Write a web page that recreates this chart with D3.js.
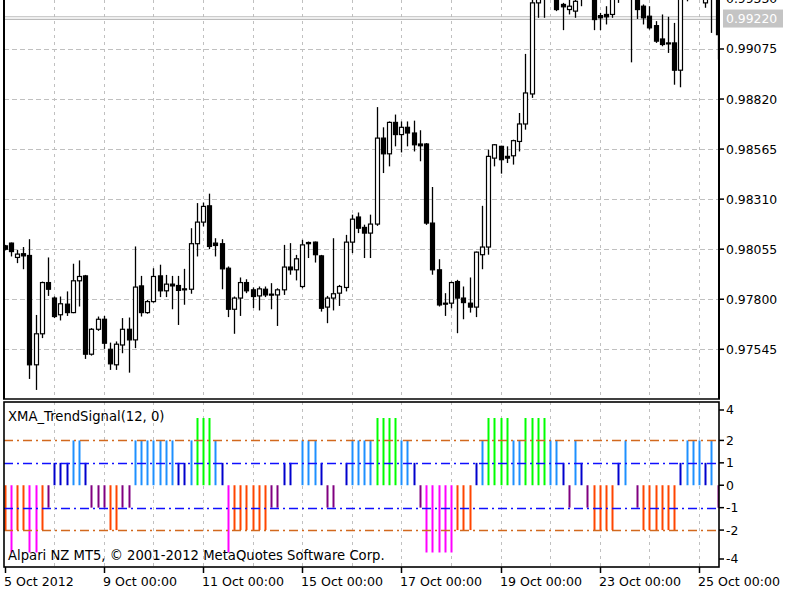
<!DOCTYPE html>
<html><head><meta charset="utf-8">
<script src="https://cdn.jsdelivr.net/npm/d3@7/dist/d3.min.js"></script>
<style>
body{margin:0;background:#fff}
svg{display:block}
text{font-family:"DejaVu Sans",sans-serif;font-size:12px;fill:#000}
</style>
</head><body>
<svg id="c" width="800" height="600"></svg>
<script>
// ---------- DATA ----------
const opens=[0.98072,0.98086,0.98013,0.98032,0.98023,0.97466,0.97624,0.97885,0.97806,0.97721,
0.97775,0.97732,0.97894,0.97919,0.97520,0.97647,0.97698,0.97545,0.97466,0.97567,
0.97647,0.97593,0.97868,0.97732,0.97788,0.97919,0.97843,0.97877,0.97870,0.97853,
0.97851,0.98083,0.98193,0.98276,0.98086,0.98083,0.97958,0.97749,0.97806,0.97885,
0.97848,0.97817,0.97851,0.97826,0.97822,0.97848,0.97964,0.97950,0.97865,0.98083,
0.98091,0.98021,0.97760,0.97806,0.97831,0.97860,0.98091,0.98219,0.98166,0.98137,
0.98183,0.98621,0.98541,0.98701,0.98639,0.98676,0.98647,0.98591,0.98591,0.98188,
0.97950,0.97780,0.97780,0.97890,0.97806,0.97780,0.97760,0.98027,0.98066,0.98519,
0.98579,0.98528,0.98531,0.98604,0.98693,0.98846,0.99310,0.99370,0.99335,0.99355,
0.99302,0.99276,0.99268,0.99330,0.99345,0.99360,0.99245,0.99251,0.99251,0.99340,
0.99350,0.99365,0.99345,0.99293,0.99242,0.99194,0.99126,0.99106,0.99106,0.98967,
0.99340,0.99360,0.99345,0.99310,0.99330,0.99340];
const highs=[0.98077,0.98089,0.98052,0.98066,0.98106,0.97720,0.97890,0.98013,0.97814,0.97814,
0.97840,0.97981,0.97998,0.97924,0.97653,0.97712,0.97715,0.97579,0.97585,0.97704,
0.97707,0.98069,0.97919,0.97797,0.97958,0.97976,0.97924,0.97919,0.97919,0.97955,
0.98162,0.98290,0.98293,0.98338,0.98111,0.98106,0.97967,0.97814,0.97911,0.97902,
0.97860,0.97865,0.97865,0.97882,0.97856,0.98077,0.98086,0.98026,0.98103,0.98094,
0.98094,0.98026,0.97817,0.98111,0.97873,0.98128,0.98231,0.98242,0.98180,0.98231,
0.98779,0.98676,0.98706,0.98741,0.98706,0.98706,0.98710,0.98661,0.98596,0.98372,
0.98004,0.97831,0.97890,0.97899,0.97865,0.97911,0.98043,0.98276,0.98562,0.98591,
0.98582,0.98579,0.98613,0.98749,0.99050,0.99345,0.99360,0.99385,0.99380,0.99370,
0.99310,0.99335,0.99330,0.99360,0.99380,0.99375,0.99259,0.99293,0.99360,0.99370,
0.99380,0.99380,0.99360,0.99302,0.99293,0.99217,0.99251,0.99239,0.99208,0.99355,
0.99380,0.99375,0.99360,0.99345,0.99355,0.99350];
const lows=[0.98049,0.98018,0.97984,0.97953,0.97394,0.97338,0.97602,0.97817,0.97704,0.97692,
0.97715,0.97729,0.97763,0.97496,0.97513,0.97639,0.97547,0.97440,0.97440,0.97525,
0.97426,0.97551,0.97712,0.97726,0.97783,0.97811,0.97811,0.97749,0.97669,0.97772,
0.97828,0.98018,0.98171,0.98055,0.98018,0.97851,0.97709,0.97624,0.97715,0.97831,
0.97755,0.97743,0.97811,0.97749,0.97664,0.97822,0.97925,0.97896,0.97856,0.98010,
0.97987,0.97737,0.97678,0.97743,0.97766,0.97840,0.98035,0.98137,0.98010,0.98010,
0.98174,0.98443,0.98477,0.98579,0.98548,0.98579,0.98553,0.98503,0.98179,0.97925,
0.97763,0.97715,0.97754,0.97627,0.97698,0.97732,0.97709,0.97953,0.98027,0.98477,
0.98440,0.98494,0.98486,0.98553,0.98664,0.98826,0.99234,0.99234,0.99330,0.99268,
0.99171,0.99251,0.99234,0.99293,0.99330,0.99171,0.99171,0.99200,0.99234,0.99310,
0.99335,0.99007,0.99228,0.99200,0.99174,0.99106,0.99089,0.99055,0.98893,0.98880,
0.99318,0.99330,0.99325,0.99285,0.99157,0.99021];
const closes=[0.98055,0.98043,0.98030,0.98021,0.97466,0.97624,0.97885,0.97851,0.97712,0.97777,
0.97732,0.97894,0.97916,0.97520,0.97647,0.97698,0.97576,0.97471,0.97571,0.97647,
0.97593,0.97862,0.97732,0.97788,0.97916,0.97843,0.97877,0.97868,0.97845,0.97848,
0.98083,0.98193,0.98273,0.98069,0.98074,0.97955,0.97749,0.97806,0.97885,0.97843,
0.97814,0.97853,0.97822,0.97821,0.97848,0.97964,0.97950,0.98006,0.98077,0.98089,
0.98027,0.97754,0.97806,0.97828,0.97865,0.98091,0.98208,0.98162,0.98137,0.98183,
0.98621,0.98541,0.98701,0.98639,0.98676,0.98647,0.98587,0.98582,0.98188,0.97950,
0.97771,0.97775,0.97885,0.97806,0.97783,0.97760,0.98040,0.98066,0.98528,0.98587,
0.98511,0.98519,0.98608,0.98693,0.98851,0.99310,0.99340,0.99335,0.99360,0.99276,
0.99290,0.99293,0.99318,0.99345,0.99360,0.99225,0.99234,0.99239,0.99340,0.99350,
0.99365,0.99345,0.99276,0.99234,0.99183,0.99115,0.99098,0.99101,0.98967,0.99340,
0.99360,0.99345,0.99340,0.99330,0.99340,0.99148];
// XMA_TrendSignal value per bar
const signal=[-2,-3,-2,-2,-3,-3,-2,-1,1,1,
1,2,2,1,-1,-1,-1,-2,-2,-1,
-1,2,2,2,2,2,2,2,1,1,
2,3,3,3,2,1,-3,-2,-2,-2,
-2,-2,-2,-1,-1,1,1,0,2,2,
2,1,-1,-1,0,1,2,2,2,2,
3,3,3,3,2,2,1,-1,-3,-3,
-3,-3,-3,-2,-2,-2,1,2,3,3,
3,3,2,2,3,3,3,3,2,2,
1,-1,2,1,-1,-2,-2,-2,-2,1,
2,0,-1,-2,-2,-2,-2,-2,-2,1,
2,2,2,1,2,-1];
const priceTicks=[0.99330,0.99075,0.98820,0.98565,0.98310,0.98055,0.97800,0.97545];
const bidPrice=0.99220;
const signalTicks=[4,2,1,0,-1,-2,-4];
const signalLevels=[2,1,-1,-2];
const timeLabels=["5 Oct 2012","9 Oct 00:00","11 Oct 00:00","15 Oct 00:00","17 Oct 00:00","19 Oct 00:00","23 Oct 00:00","25 Oct 00:00"];
const timeLabelBars=[0,16,32,48,64,80,96,112];
const barsPerDay=8;
const indicatorName="XMA_TrendSignal(12, 0)";
const copyright="Alpari NZ MT5, \u00A9 2001-2012 MetaQuotes Software Corp.";

// ---------- LAYOUT ----------
const L=4, R=719;
const main={top:0,bottom:399};
const sub={top:402,bottom:567};
const svg=d3.select("#c");
const n=closes.length;
const x=d3.scaleLinear().domain([0,n-1]).range([4.5,4.5+6.2*(n-1)]);
const y=d3.scaleLinear().domain([0.97545,0.99075]).range([349.3,49]);
const ys=d3.scaleLinear().domain([-3,3]).range([552.5,418]);
const colorOf=d3.scaleOrdinal().domain([3,2,1,-1,-2,-3])
  .range(["#00FF00","#1E90FF","#0000CD","#800080","#FF4500","#FF00FF"]);
const grid="#C0C0C0";

const defs=svg.append("defs");
defs.append("clipPath").attr("id","cm").append("rect").attr("x",L).attr("y",main.top).attr("width",R-L).attr("height",main.bottom-main.top);
defs.append("clipPath").attr("id","cs").append("rect").attr("x",L).attr("y",sub.top).attr("width",R-L).attr("height",sub.bottom-sub.top);

// ---------- MAIN WINDOW ----------
const gm=svg.append("g").attr("clip-path","url(#cm)");
const dayBars=d3.range(barsPerDay,n,barsPerDay);
gm.selectAll("line.vg").data(dayBars).join("line")
  .attr("x1",d=>Math.round(x(d))+0.5).attr("x2",d=>Math.round(x(d))+0.5)
  .attr("y1",main.top).attr("y2",main.bottom)
  .attr("stroke",grid).attr("stroke-dasharray","3,4");
gm.selectAll("line.hg").data(priceTicks).join("line")
  .attr("x1",L).attr("x2",R)
  .attr("y1",d=>Math.round(y(d))+0.5).attr("y2",d=>Math.round(y(d))+0.5)
  .attr("stroke",grid).attr("stroke-dasharray","5,3");
// bid double line
const by=y(bidPrice);
[by-3.8,by-1.2].forEach(v=>gm.append("line").attr("x1",L).attr("x2",R).attr("y1",v).attr("y2",v).attr("stroke","#BBBBBB").attr("stroke-width",1.2));

const idx=d3.range(n);
const cg=gm.append("g");
cg.selectAll("line.wick").data(idx).join("line")
  .attr("x1",i=>Math.round(x(i))+0.5).attr("x2",i=>Math.round(x(i))+0.5)
  .attr("y1",i=>y(highs[i])).attr("y2",i=>y(lows[i]))
  .attr("stroke","#000").attr("stroke-width",1.3);
cg.selectAll("rect.body").data(idx).join("rect")
  .attr("x",i=>Math.round(x(i))-1.5).attr("width",4)
  .attr("y",i=>y(Math.max(opens[i],closes[i])))
  .attr("height",i=>Math.max(1,Math.abs(y(opens[i])-y(closes[i]))))
  .attr("fill",i=>closes[i]>=opens[i]?"#fff":"#000")
  .attr("stroke","#000").attr("stroke-width",1.2);

// main frame
svg.append("line").attr("x1",L).attr("x2",L).attr("y1",0).attr("y2",main.bottom).attr("stroke","#000").attr("stroke-width",2);
svg.append("line").attr("x1",R).attr("x2",R).attr("y1",0).attr("y2",main.bottom).attr("stroke","#000").attr("stroke-width",2);
svg.append("line").attr("x1",L-1).attr("x2",R+1).attr("y1",main.bottom).attr("y2",main.bottom).attr("stroke","#000").attr("stroke-width",1.5);

// price axis
const pa=svg.append("g");
pa.selectAll("line").data(priceTicks).join("line")
  .attr("x1",R).attr("x2",R+5).attr("y1",d=>y(d)).attr("y2",d=>y(d)).attr("stroke","#000").attr("stroke-width",1.5);
pa.selectAll("text").data(priceTicks).join("text")
  .attr("x",R+7).attr("y",d=>y(d)).attr("dy","0.36em").style("font-size","12.4px").text(d=>d.toFixed(5));
// bid label
pa.append("rect").attr("x",R+4).attr("y",by-11).attr("width",60).attr("height",18).attr("fill","#C4C4C4");
pa.append("text").attr("x",R+7).attr("y",by-2).attr("dy","0.36em").style("font-size","12.4px").style("fill","#fff").text(bidPrice.toFixed(5));

// ---------- SUB WINDOW ----------
const gs=svg.append("g").attr("clip-path","url(#cs)");
gs.selectAll("line.vg").data(dayBars).join("line")
  .attr("x1",d=>Math.round(x(d))+0.5).attr("x2",d=>Math.round(x(d))+0.5)
  .attr("y1",sub.top).attr("y2",sub.bottom)
  .attr("stroke",grid).attr("stroke-dasharray","3,4");
gs.selectAll("line.bar").data(idx.filter(i=>signal[i]!==0)).join("line")
  .attr("x1",i=>Math.round(x(i))+0.5).attr("x2",i=>Math.round(x(i))+0.5)
  .attr("y1",ys(0)).attr("y2",i=>ys(signal[i]))
  .attr("stroke",i=>colorOf(signal[i])).attr("stroke-width",2);
gs.selectAll("line.lvl").data(signalLevels).join("line")
  .attr("x1",L).attr("x2",R)
  .attr("y1",d=>Math.round(ys(d))+0.5).attr("y2",d=>Math.round(ys(d))+0.5)
  .attr("stroke",d=>Math.abs(d)===2?"#D2691E":"#1010FF").attr("stroke-width",1.4)
  .attr("stroke-dasharray","9,4,2,4");

svg.append("rect").attr("x",L).attr("y",sub.top).attr("width",R-L).attr("height",sub.bottom-sub.top)
  .attr("fill","none").attr("stroke","#000").attr("stroke-width",1.6);
svg.append("text").attr("x",8).attr("y",421).style("font-size","13.2px").text(indicatorName);
svg.append("text").attr("x",8).attr("y",560).style("font-size","13.2px").text(copyright);

// signal axis
const sy=v=>Math.min(sub.bottom-8,Math.max(sub.top+8,ys(v)));
const sa=svg.append("g");
sa.selectAll("line").data(signalTicks).join("line")
  .attr("x1",R).attr("x2",R+5).attr("y1",d=>sy(d)).attr("y2",d=>sy(d)).attr("stroke","#000").attr("stroke-width",1.5);
sa.selectAll("text").data(signalTicks).join("text")
  .attr("x",R+7).attr("y",d=>sy(d)).attr("dy","0.36em").style("font-size","12.4px").text(d=>String(d));

// ---------- TIME AXIS ----------
const ta=svg.append("g");
ta.selectAll("line").data(timeLabelBars).join("line")
  .attr("x1",d=>Math.round(x(d))+0.5).attr("x2",d=>Math.round(x(d))+0.5)
  .attr("y1",sub.bottom).attr("y2",sub.bottom+6).attr("stroke","#000").attr("stroke-width",1.5);
ta.selectAll("text").data(timeLabels).join("text")
  .attr("x",(d,i)=>Math.round(x(timeLabelBars[i]))-1).attr("y",586).style("font-size","12.6px").text(d=>d);
</script>
</body></html>
